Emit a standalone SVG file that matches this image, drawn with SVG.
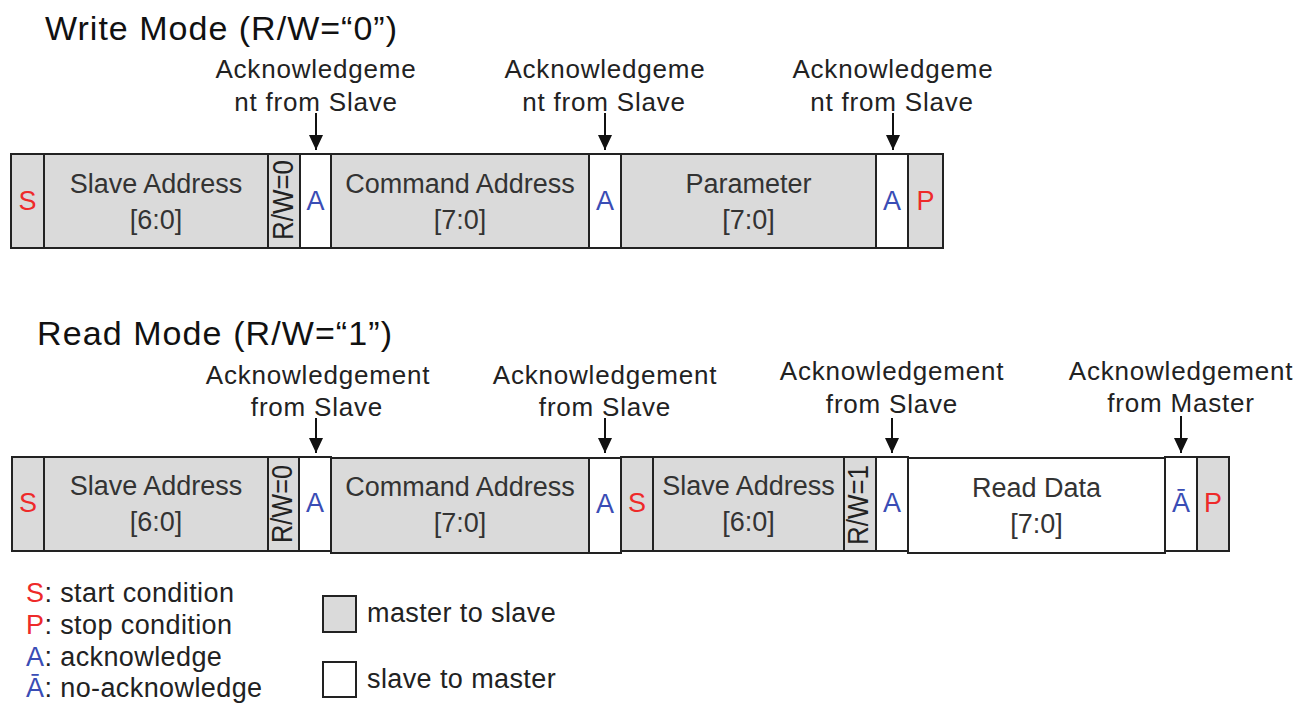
<svg xmlns="http://www.w3.org/2000/svg" width="1300" height="704" viewBox="0 0 1300 704">
<defs>
<style>
text{font-family:"Liberation Sans",Arial,sans-serif;}
.title{font-size:34px;fill:#111;}
.lbl{font-size:26px;fill:#222;text-anchor:middle;letter-spacing:0.8px;}
.bt{font-size:27px;fill:#333;text-anchor:middle;}
.g{fill:#dadada;stroke:#222;stroke-width:2;}
.w{fill:#fff;stroke:#222;stroke-width:2;}
.s{font-size:27px;fill:#ee2a2a;text-anchor:middle;}
.a{font-size:27px;fill:#3a4db5;text-anchor:middle;}
.rw{font-size:30px;fill:#222;text-anchor:middle;}
.leg{font-size:27px;fill:#222;letter-spacing:0.4px;}
.arr{stroke:#111;stroke-width:2;fill:none;}
</style>
<marker id="ah" markerUnits="userSpaceOnUse" markerWidth="16" markerHeight="16" viewBox="0 0 16 16" refX="15" refY="8" orient="auto">
<path d="M0,1 L15,8 L0,15 Z" fill="#111"/>
</marker>
</defs>

<text class="title" x="45" y="40" textLength="352">Write Mode (R/W=“0”)</text>
<text class="title" x="37" y="345" textLength="355">Read Mode (R/W=“1”)</text>

<g id="labels-write">
<text class="lbl" x="316" y="78">Acknowledgeme</text><text class="lbl" x="316" y="111">nt from Slave</text>
<text class="lbl" x="605" y="78">Acknowledgeme</text><text class="lbl" x="604" y="111">nt from Slave</text>
<text class="lbl" x="893" y="78">Acknowledgeme</text><text class="lbl" x="892" y="111">nt from Slave</text>
</g>
<g id="labels-read">
<text class="lbl" x="318" y="384">Acknowledgement</text><text class="lbl" x="317" y="416">from Slave</text>
<text class="lbl" x="605" y="384">Acknowledgement</text><text class="lbl" x="605" y="416">from Slave</text>
<text class="lbl" x="892" y="380">Acknowledgement</text><text class="lbl" x="892" y="413">from Slave</text>
<text class="lbl" x="1181" y="380">Acknowledgement</text><text class="lbl" x="1181" y="412">from Master</text>
</g>

<g id="connectors">
<line class="arr" x1="316" y1="113" x2="316" y2="150" marker-end="url(#ah)"/>
<line class="arr" x1="605" y1="113" x2="605" y2="150" marker-end="url(#ah)"/>
<line class="arr" x1="893" y1="113" x2="893" y2="150" marker-end="url(#ah)"/>
<line class="arr" x1="316" y1="418" x2="316" y2="453" marker-end="url(#ah)"/>
<line class="arr" x1="605" y1="418" x2="605" y2="453" marker-end="url(#ah)"/>
<line class="arr" x1="892" y1="418" x2="892" y2="453" marker-end="url(#ah)"/>
<line class="arr" x1="1181" y1="416" x2="1181" y2="453" marker-end="url(#ah)"/>
</g>

<!-- Write row -->
<g id="w-s"><rect class="g" x="11" y="154" width="33" height="94"/><text class="s" x="27.5" y="210">S</text></g>
<g id="w-addr"><rect class="g" x="44" y="154" width="224" height="94"/><text class="bt" x="156" y="193">Slave Address</text><text class="bt" x="156" y="229">[6:0]</text></g>
<g id="w-rw"><rect class="g" x="268" y="154" width="32" height="94"/><text class="rw" transform="translate(293,200) rotate(-90)" textLength="80" lengthAdjust="spacingAndGlyphs">R/W=0</text></g>
<g id="w-a1"><rect class="w" x="300" y="154" width="31" height="94"/><text class="a" x="315.5" y="210">A</text></g>
<g id="w-cmd"><rect class="g" x="331" y="154" width="258" height="94"/><text class="bt" x="460" y="193">Command Address</text><text class="bt" x="460" y="229">[7:0]</text></g>
<g id="w-a2"><rect class="w" x="589" y="154" width="32" height="94"/><text class="a" x="605" y="210">A</text></g>
<g id="w-param"><rect class="g" x="621" y="154" width="255" height="94"/><text class="bt" x="748.5" y="193">Parameter</text><text class="bt" x="748.5" y="229">[7:0]</text></g>
<g id="w-a3"><rect class="w" x="876" y="154" width="32" height="94"/><text class="a" x="892" y="210">A</text></g>
<g id="w-p"><rect class="g" x="908" y="154" width="35" height="94"/><text class="s" x="925.5" y="210">P</text></g>

<!-- Read row -->
<g id="r-s"><rect class="g" x="12" y="457" width="32" height="94"/><text class="s" x="28" y="512">S</text></g>
<g id="r-addr"><rect class="g" x="44" y="457" width="224" height="94"/><text class="bt" x="156" y="495">Slave Address</text><text class="bt" x="156" y="531">[6:0]</text></g>
<g id="r-rw"><rect class="g" x="268" y="457" width="31" height="94"/><text class="rw" transform="translate(292,504) rotate(-90)" textLength="78" lengthAdjust="spacingAndGlyphs">R/W=0</text></g>
<g id="r-a1"><rect class="w" x="299" y="457" width="32" height="94"/><text class="a" x="315" y="512">A</text></g>
<g id="r-cmd"><rect class="g" x="331" y="458" width="258" height="95"/><text class="bt" x="460" y="496">Command Address</text><text class="bt" x="460" y="532">[7:0]</text></g>
<g id="r-a2"><rect class="w" x="589" y="458" width="32" height="95"/><text class="a" x="605" y="513">A</text></g>
<g id="r-s2"><rect class="g" x="621" y="457" width="32" height="94"/><text class="s" x="637" y="512">S</text></g>
<g id="r-addr2"><rect class="g" x="653" y="457" width="191" height="94"/><text class="bt" x="748.5" y="495">Slave Address</text><text class="bt" x="748.5" y="531">[6:0]</text></g>
<g id="r-rw2"><rect class="g" x="844" y="457" width="32" height="94"/><text class="rw" transform="translate(868,505) rotate(-90)" textLength="80" lengthAdjust="spacingAndGlyphs">R/W=1</text></g>
<g id="r-a3"><rect class="w" x="876" y="457" width="32" height="94"/><text class="a" x="892" y="512">A</text></g>
<g id="r-data"><rect class="w" x="908" y="458" width="257" height="95"/><text class="bt" x="1036.5" y="497">Read Data</text><text class="bt" x="1036.5" y="533">[7:0]</text></g>
<g id="r-na"><rect class="w" x="1165" y="457" width="32" height="94"/><text class="a" x="1181" y="512">Ā</text></g>
<g id="r-p"><rect class="g" x="1197" y="457" width="32" height="94"/><text class="s" x="1213" y="512">P</text></g>

<g id="legend">
<text class="leg" x="26" y="602"><tspan fill="#ee2a2a">S</tspan>: start condition</text>
<text class="leg" x="26" y="634"><tspan fill="#ee2a2a">P</tspan>: stop condition</text>
<text class="leg" x="26" y="666"><tspan fill="#3a4db5">A</tspan>: acknowledge</text>
<text class="leg" x="26" y="697"><tspan fill="#3a4db5">Ā</tspan>: no-acknowledge</text>
<rect class="g" x="323" y="596" width="33" height="36"/>
<text class="leg" x="367" y="622">master to slave</text>
<rect class="w" x="323" y="662" width="33" height="35"/>
<text class="leg" x="367" y="688">slave to master</text>
</g>
</svg>
